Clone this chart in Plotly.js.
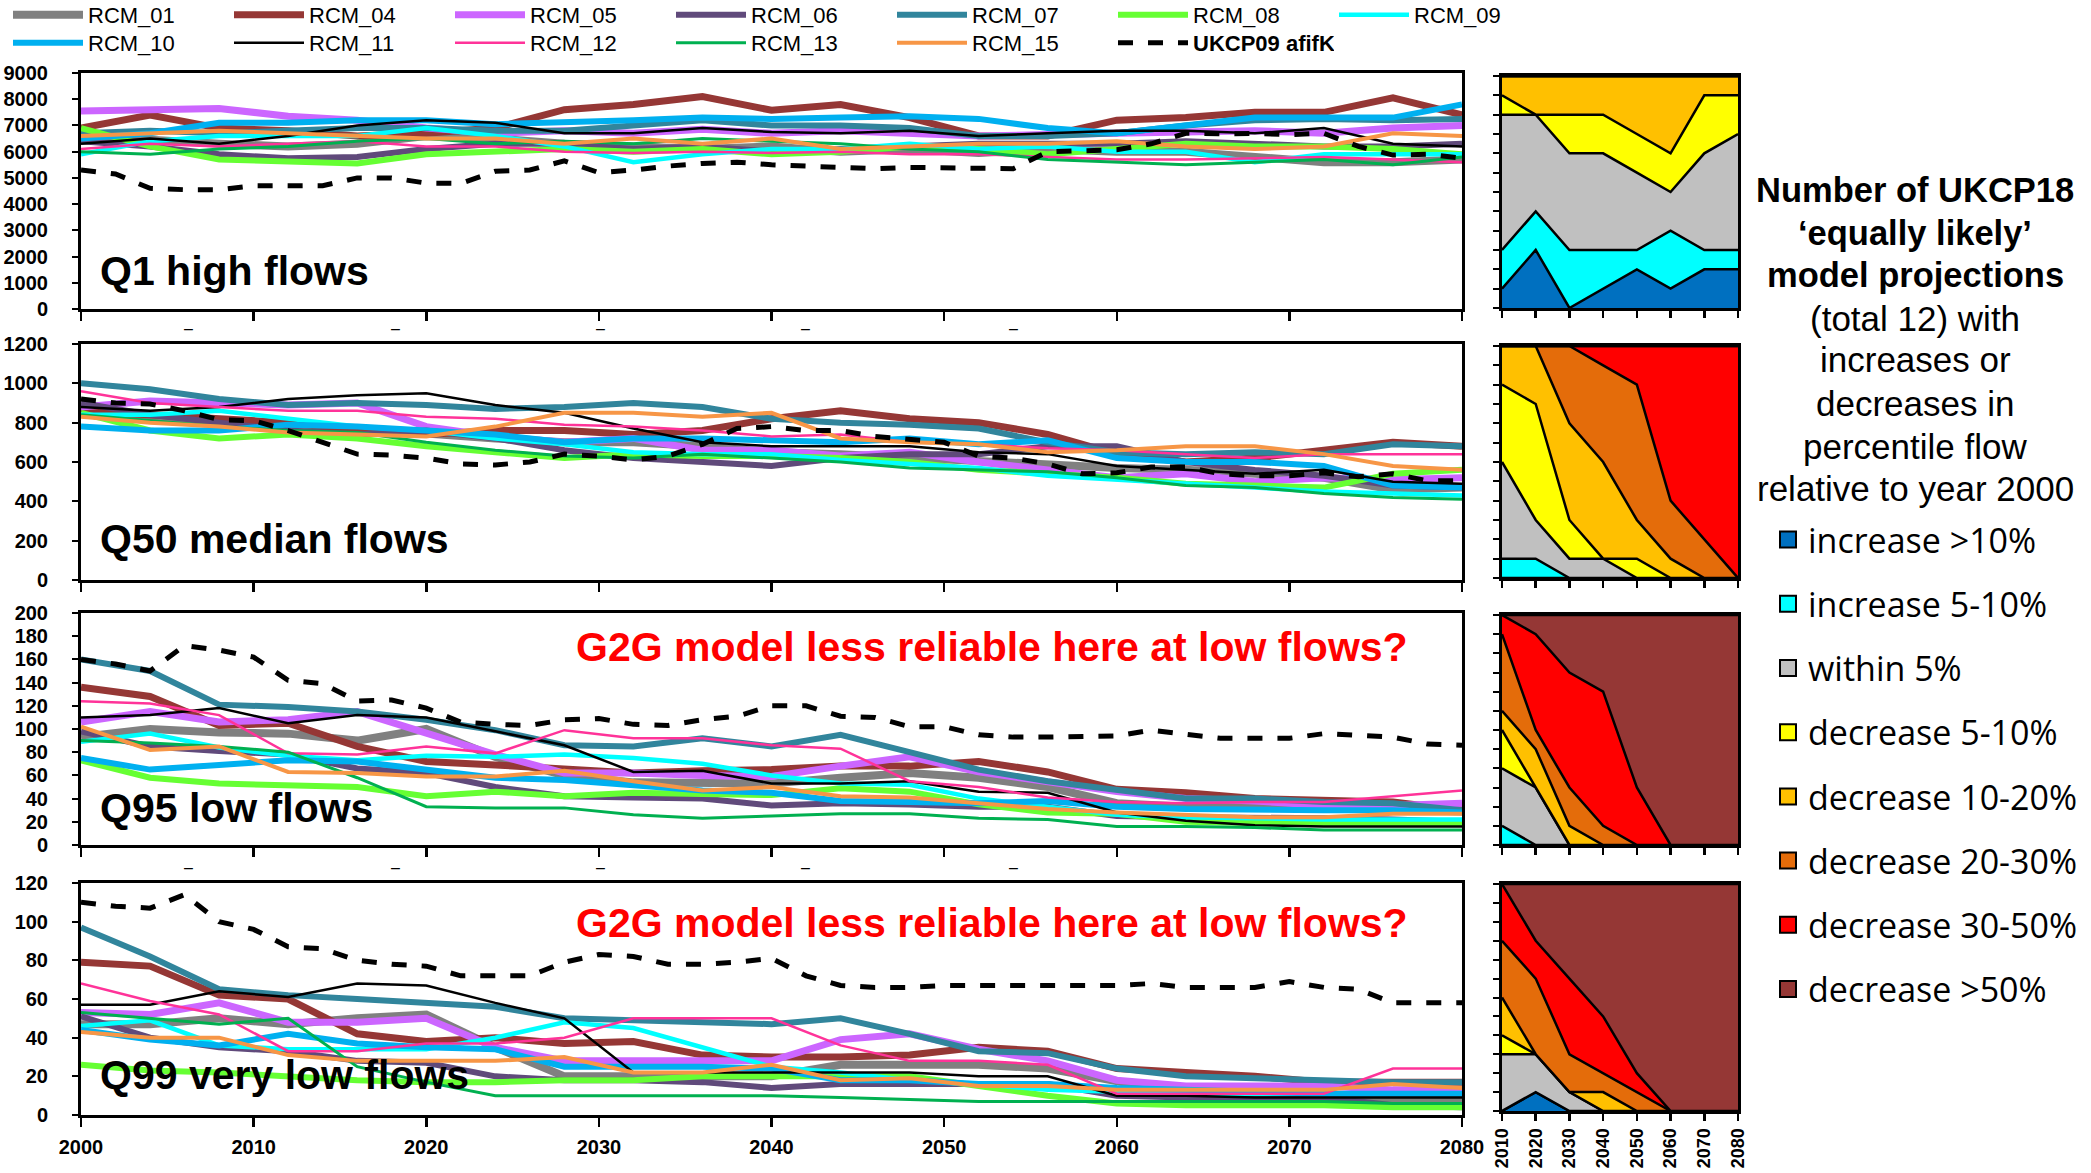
<!DOCTYPE html>
<html><head><meta charset="utf-8">
<script src="https://cdn.plot.ly/plotly-3.0.1.min.js"></script>
<style>html,body{margin:0;padding:0;background:#fff;overflow:hidden}</style>
</head><body><div id="chart" style="width:2091px;height:1173px"></div>
<script>
// ---------- DATA ----------
const years = [2000,2004,2008,2012,2016,2020,2024,2028,2032,2036,2040,2044,2048,2052,2056,2060,2064,2068,2072,2076,2080];
const yearsUK = [2000,2002,2004,2006,2008,2010,2012,2014,2016,2018,2020,2022,2024,2026,2028,2030,2032,2034,2036,2038,2040,2042,2044,2046,2048,2050,2052,2054,2056,2058,2060,2062,2064,2066,2068,2070,2072,2074,2076,2078,2080];
const rcmNames = ['RCM_01','RCM_04','RCM_05','RCM_06','RCM_07','RCM_08','RCM_09','RCM_10','RCM_11','RCM_12','RCM_13','RCM_15'];
const ukName = 'UKCP09 afifK';

// Q1 high flows (rows follow rcmNames)
const q1Flows = [
 [6500,6450,6300,6200,6300,6600,6500,6300,6200,6100,6200,6000,6100,5950,6100,6000,6000,5800,5600,5600,5700],
 [6900,7400,6900,6800,6600,6700,6900,7600,7800,8100,7580,7800,7300,6600,6600,7200,7300,7500,7500,8050,7400],
 [7550,7600,7650,7350,7200,6900,6700,6800,6700,6850,6700,6800,6700,6600,6650,6700,6750,6800,6700,6900,7000],
 [6400,6200,5900,5750,5800,6100,6300,6300,6100,6200,6000,6100,6200,6300,6300,6300,6400,6300,6200,6200,6300],
 [6700,6800,6700,6800,6900,6900,6800,6800,7000,7200,7000,7000,6900,6600,6600,6700,7000,7200,7250,7200,7250],
 [6900,6200,5700,5600,5550,5900,6000,6100,6000,6100,5900,6000,6200,6100,5900,6100,6300,6200,6200,6100,5900],
 [5900,6400,6600,6600,6600,6900,6600,6200,5600,5900,6100,6100,6300,6100,6200,6000,6000,5600,5900,5900,5900],
 [6500,6700,7100,7100,7200,7200,7050,7100,7200,7300,7250,7300,7350,7250,6900,6700,7000,7300,7300,7300,7800],
 [6300,6500,6300,6600,7000,7200,7100,6700,6700,6900,6750,6700,6800,6600,6700,6800,6800,6700,6900,6300,6200],
 [6100,6300,6200,6300,6400,6200,6200,6000,5950,6000,5950,6000,5900,5900,5800,5700,5700,5750,5800,5700,5600],
 [6000,5900,6100,6200,6400,6500,6300,6400,6300,6500,6400,6300,6100,6000,5700,5600,5500,5600,5700,5500,5800],
 [6600,6700,6800,6700,6600,6500,6500,6300,6500,6300,6500,6100,6200,6300,6300,6400,6200,6100,6200,6700,6600]
];
const ukQ1 = [5300,5150,4600,4550,4550,4700,4700,4700,5000,5000,4800,4790,5250,5300,5650,5200,5300,5450,5550,5600,5500,5450,5420,5350,5400,5390,5380,5350,6000,6050,6070,6300,6700,6680,6690,6650,6700,6200,5870,5900,5750];

// Q50 median flows
const q50Flows = [
 [870,820,790,770,770,740,720,700,700,680,650,640,620,600,580,570,560,540,520,460,470],
 [860,840,820,800,760,740,760,760,740,760,820,860,820,800,740,640,600,620,660,700,680],
 [880,910,900,890,900,780,730,700,720,660,660,630,650,600,560,520,540,500,520,510,520],
 [900,840,800,760,740,760,720,660,620,600,580,620,640,640,680,680,600,560,530,480,470],
 [1000,970,920,890,900,890,870,880,900,880,820,800,790,770,700,650,640,650,640,690,680],
 [850,760,720,740,720,680,650,620,640,630,630,620,600,560,540,520,490,480,470,540,560],
 [840,840,860,820,780,760,720,690,650,640,640,610,590,570,530,510,490,470,450,440,430],
 [780,760,760,790,780,760,740,700,720,720,710,700,720,690,710,620,600,600,580,480,470],
 [880,860,880,920,940,950,890,850,770,700,680,680,680,650,640,580,560,540,560,500,490],
 [960,900,880,860,860,830,820,790,780,760,730,740,700,690,670,660,640,620,640,640,640],
 [840,810,780,760,750,700,660,630,620,640,620,600,570,560,550,520,480,470,440,420,410],
 [830,800,780,750,740,730,780,850,850,830,850,720,700,690,650,660,680,680,640,580,560]
];
const ukQ50 = [920,900,895,860,815,810,760,700,640,635,620,590,585,600,640,630,610,630,690,770,780,760,760,730,715,700,630,620,590,540,545,575,575,540,530,530,545,525,540,505,505];

// Q95 low flows
const q95Flows = [
 [93,100,97,96,90,100,76,60,54,53,53,58,62,58,50,36,33,33,33,32,30],
 [136,128,103,105,85,72,69,66,62,64,65,68,68,72,63,48,45,40,38,37,30],
 [106,115,106,108,115,97,78,62,62,60,59,68,76,63,55,46,40,38,34,34,36],
 [98,85,81,78,66,62,50,42,41,40,34,36,35,33,33,25,24,24,23,22,20],
 [160,150,121,119,115,108,99,86,85,92,85,95,80,65,55,47,40,40,37,36,30],
 [73,58,53,51,50,42,46,42,45,44,43,49,46,35,28,27,20,19,19,19,19],
 [89,96,84,77,73,77,76,78,75,70,60,53,52,40,33,26,24,23,22,22,22],
 [75,65,69,73,72,65,58,56,51,47,45,38,37,36,38,33,31,30,30,30,28],
 [110,112,118,105,112,110,98,86,63,64,53,53,55,46,45,28,21,17,16,16,16],
 [124,122,112,79,78,85,79,99,92,92,86,83,55,50,41,37,36,37,37,42,47],
 [90,88,85,80,58,33,32,32,26,23,25,27,27,23,22,16,16,15,13,13,13],
 [102,82,85,63,62,59,59,64,55,47,50,42,41,36,31,28,26,24,24,27,27]
];
const ukQ95 = [160,156,150,172,168,162,142,139,124,125,118,106,104,103,108,109,104,103,108,111,120,120,111,110,102,102,95,93,93,93,94,99,96,92,92,92,96,94,93,87,86];

// Q99 very low flows
const q99Flows = [
 [47,47,50,47,50,52,35,20,20,20,20,26,26,26,24,18,11,10,9,8,8],
 [79,77,62,60,42,38,40,37,38,31,30,30,31,35,33,24,22,20,17,17,17],
 [53,52,58,48,48,50,35,28,28,28,28,39,42,34,28,18,15,15,15,13,13],
 [51,40,35,33,28,27,20,18,18,17,14,16,16,16,16,10,9,9,9,5,4],
 [97,82,65,62,60,58,56,50,49,48,47,50,42,33,32,24,20,19,18,17,17],
 [26,23,22,20,18,17,17,18,18,20,20,20,20,15,10,6,5,5,5,4,4],
 [46,49,36,34,34,34,40,48,45,35,25,22,18,16,13,12,11,11,11,11,11],
 [44,39,36,42,37,35,34,25,25,25,24,18,18,16,16,14,13,12,11,11,11],
 [57,57,64,61,68,67,58,50,22,22,22,22,22,20,20,10,10,9,9,9,9],
 [68,59,52,33,33,37,37,40,50,50,50,36,28,28,26,11,11,11,11,24,24],
 [53,50,47,50,25,17,10,10,10,10,10,9,8,7,7,7,7,7,7,6,6],
 [43,40,40,31,28,28,28,30,22,22,26,18,19,15,15,13,13,13,13,16,14]
];
const ukQ99 = [110,108,107,114,100,96,87,86,80,78,77,72,72,72,79,83,82,78,78,79,81,72,67,66,66,67,67,67,67,67,67,68,66,66,66,69,66,65,58,58,58];

// Number of projections (of 12) per change class
const areaYears = [2010,2020,2030,2040,2050,2060,2070,2080];
const changeClasses = ['increase >10%','increase 5-10%','within 5%','decrease 5-10%','decrease 10-20%','decrease 20-30%','decrease 30-50%','decrease >50%'];
const countsQ1 = [
 [1,3,0,1,2,1,2,2],
 [2,2,3,2,1,3,1,1],
 [7,5,5,5,4,2,5,6],
 [1,0,2,2,2,2,3,2],
 [1,2,2,2,3,4,1,1],
 [0,0,0,0,0,0,0,0],
 [0,0,0,0,0,0,0,0],
 [0,0,0,0,0,0,0,0]
];
const countsQ50 = [
 [0,0,0,0,0,0,0,0],
 [1,1,0,0,0,0,0,0],
 [5,2,1,1,0,0,0,0],
 [4,6,2,0,1,0,0,0],
 [2,3,5,5,2,1,0,0],
 [0,0,4,5,7,3,2,0],
 [0,0,0,1,2,8,10,12],
 [0,0,0,0,0,0,0,0]
];
const countsQ95 = [
 [0,0,0,0,0,0,0,0],
 [1,0,0,0,0,0,0,0],
 [3,3,0,0,0,0,0,0],
 [2,0,0,0,0,0,0,0],
 [1,2,1,0,0,0,0,0],
 [4,1,2,1,0,0,0,0],
 [1,5,6,7,3,0,0,0],
 [0,1,3,4,9,12,12,12]
];
const countsQ99 = [
 [0,1,0,0,0,0,0,0],
 [0,0,0,0,0,0,0,0],
 [3,2,1,0,0,0,0,0],
 [1,0,0,0,0,0,0,0],
 [2,0,0,1,0,0,0,0],
 [3,4,2,1,1,0,0,0],
 [3,2,4,3,1,0,0,0],
 [0,3,5,7,10,12,12,12]
];

// ---------- STYLE ----------
const W = 2091, H = 1173;
const px = v => v / W;
const py = v => 1 - v / H;
const FONT = 'Liberation Sans, Arial, sans-serif';
const rcmColors = ['#808080','#953735','#CC66FF','#604A7B','#31859C','#66FF33','#00FFFF','#00B0F0','#000000','#FF3399','#00B050','#F79646'];
const rcmWidths = [8,7,7,6,6,6,4.5,6,2.5,2.5,3,4];
const classColors = ['#0070C0','#00FFFF','#C0C0C0','#FFFF00','#FFC000','#E46C0A','#FF0000','#953735'];

const panels = [
  {flows:q1Flows, uk:ukQ1, counts:countsQ1, range:[0,9000], dtick:1000},
  {flows:q50Flows, uk:ukQ50, counts:countsQ50, range:[0,1200], dtick:200},
  {flows:q95Flows, uk:ukQ95, counts:countsQ95, range:[0,200], dtick:20},
  {flows:q99Flows, uk:ukQ99, counts:countsQ99, range:[0,120], dtick:20}
];
// pixel geometry of panels
const leftX = [81, 1462];
const rightX = [1502, 1738];
const leftY = [[73,309],[344,580],[613,845],[883,1115]];
const rightY = [[76,308],[346,578],[615,845],[884,1111]];

const traces = [];
const layout = {
  width: W, height: H,
  margin: {l:0, r:0, t:0, b:0, autoexpand: false},
  paper_bgcolor: '#fff', plot_bgcolor: '#fff',
  font: {family: FONT, color: '#000'},
  showlegend: true,
  annotations: [], shapes: []
};

panels.forEach((p, k) => {
  const n = k + 1;
  const xa = 'x' + n, ya = 'y' + n;
  p.flows.forEach((vals, i) => {
    traces.push({
      x: years, y: vals, xaxis: xa, yaxis: ya, type: 'scatter', mode: 'lines',
      name: rcmNames[i], legend: i < 7 ? 'legend' : 'legend2',
      showlegend: k === 0,
      line: {color: rcmColors[i], width: rcmWidths[i]}, hoverinfo: 'skip'
    });
  });
  traces.push({
    x: yearsUK, y: p.uk, xaxis: xa, yaxis: ya, type: 'scatter', mode: 'lines',
    name: '<b>' + ukName + '</b>', legend: 'legend2', showlegend: k === 0,
    line: {color: '#000', width: 5, dash: 'dash'}, hoverinfo: 'skip'
  });
  const rx = 'x' + (n + 4), ry = 'y' + (n + 4);
  p.counts.forEach((vals, i) => {
    traces.push({
      x: areaYears, y: vals, xaxis: rx, yaxis: ry, type: 'scatter', mode: 'lines',
      stackgroup: 'r' + n, fillcolor: classColors[i], name: changeClasses[i],
      line: {color: '#000', width: 2.5}, showlegend: false, hoverinfo: 'skip'
    });
  });

  const axLine = {showline: true, linecolor: '#000', linewidth: 3, mirror: true, showgrid: false, zeroline: false};
  layout['xaxis' + n] = Object.assign({}, axLine, {
    domain: [px(leftX[0]), px(leftX[1])], range: [2000, 2080], anchor: ya,
    tick0: 2000, dtick: 10, ticks: 'outside', ticklen: 9, tickwidth: 2.5, tickcolor: '#000',
    showticklabels: k === 3, ticklabelstandoff: 3,
    tickfont: {family: FONT, size: 20, weight: 'bold', color: '#000'}
  });
  layout['yaxis' + n] = Object.assign({}, axLine, {
    domain: [py(leftY[k][1]), py(leftY[k][0])], range: p.range, anchor: xa,
    tick0: 0, dtick: p.dtick, ticks: 'outside', ticklen: 6, tickwidth: 2, tickcolor: '#000',
    ticklabelstandoff: 20,
    tickfont: {family: FONT, size: 20, weight: 'bold', color: '#000'}
  });
  layout['xaxis' + (n + 4)] = Object.assign({}, axLine, {
    domain: [px(rightX[0]), px(rightX[1])], range: [2010, 2080], anchor: ry,
    tick0: 2010, dtick: 10, ticks: 'outside', ticklen: 7, tickwidth: 2.5, tickcolor: '#000',
    showticklabels: k === 3, tickangle: -90, ticklabelstandoff: 0,
    tickfont: {family: FONT, size: 18, weight: 'bold', color: '#000'}
  });
  layout['yaxis' + (n + 4)] = Object.assign({}, axLine, {
    domain: [py(rightY[k][1]), py(rightY[k][0])], range: [0, 12], anchor: rx,
    tick0: 0, dtick: 1, ticks: 'outside', ticklen: 6, tickwidth: 2, tickcolor: '#000',
    showticklabels: false
  });
});

// legend proxies for change classes
changeClasses.forEach((c, i) => {
  traces.push({
    x: [null], y: [null], xaxis: 'x5', yaxis: 'y5', type: 'scatter', mode: 'markers',
    name: c, legend: 'legend3', legendgroup: 'cls' + i,
    marker: {symbol: 'square', size: 16, color: classColors[i], line: {color: '#000', width: 2}},
    hoverinfo: 'skip'
  });
});

const legBase = {orientation: 'h', xanchor: 'left', yanchor: 'middle', bgcolor: 'rgba(0,0,0,0)',
  borderwidth: 0, entrywidth: 136, entrywidthmode: 'pixels', itemwidth: 70, traceorder: 'normal',
  font: {family: FONT, size: 22, color: '#000'}, itemclick: false, itemdoubleclick: false};
layout.legend = Object.assign({}, legBase, {x: px(8), y: py(15)});
layout.legend2 = Object.assign({}, legBase, {x: px(8), y: py(43)});
layout.legend3 = {orientation: 'v', x: px(1768), xanchor: 'left', y: py(511), yanchor: 'top',
  bgcolor: 'rgba(0,0,0,0)', borderwidth: 0, tracegroupgap: 17, itemsizing: 'trace',
  font: {family: 'Open Sans, ' + FONT, size: 34, color: '#000'}, itemclick: false, itemdoubleclick: false};

// panel labels
const panelLabels = [['Q1 high flows', 271], ['Q50 median flows', 539], ['Q95 low flows', 808], ['Q99 very low flows', 1075]];
panelLabels.forEach(([t, y]) => layout.annotations.push({
  text: '<b>' + t + '</b>', xref: 'paper', yref: 'paper', x: px(98), y: py(y), xanchor: 'left', yanchor: 'middle',
  showarrow: false, font: {family: FONT, size: 41, color: '#000'}
}));
[647, 923].forEach(y => layout.annotations.push({
  text: '<b>G2G model less reliable here at low flows?</b>', xref: 'paper', yref: 'paper', x: px(992), y: py(y),
  xanchor: 'center', yanchor: 'middle', showarrow: false, font: {family: FONT, size: 41, color: '#FF0000'}
}));
// right-hand explanatory text
const sideText = [['Number of UKCP18', true], ['\u2018equally likely\u2019', true], ['model projections', true],
  ['(total 12) with', false], ['increases or', false], ['decreases in', false], ['percentile flow', false], ['relative to year 2000', false]];
const sideY = [190, 233, 275, 318, 360, 403, 446, 488];
sideText.forEach(([t, b], i) => layout.annotations.push({
  text: b ? '<b>' + t + '</b>' : t, xref: 'paper', yref: 'paper', x: px(1915), y: py(sideY[i]),
  xanchor: 'center', yanchor: 'middle', showarrow: false, font: {family: FONT, size: b ? 34.5 : 35, color: '#000'}
}));
// stray dash marks under panels 1 and 3
[328, 867].forEach(y => [188, 395, 600, 805, 1013].forEach(x => layout.annotations.push({
  text: '\u2013', xref: 'paper', yref: 'paper', x: px(x), y: py(y), xanchor: 'center', yanchor: 'middle',
  showarrow: false, font: {family: FONT, size: 16, color: '#000'}
})));

Plotly.newPlot('chart', traces, layout, {staticPlot: true, displayModeBar: false});
</script></body></html>
